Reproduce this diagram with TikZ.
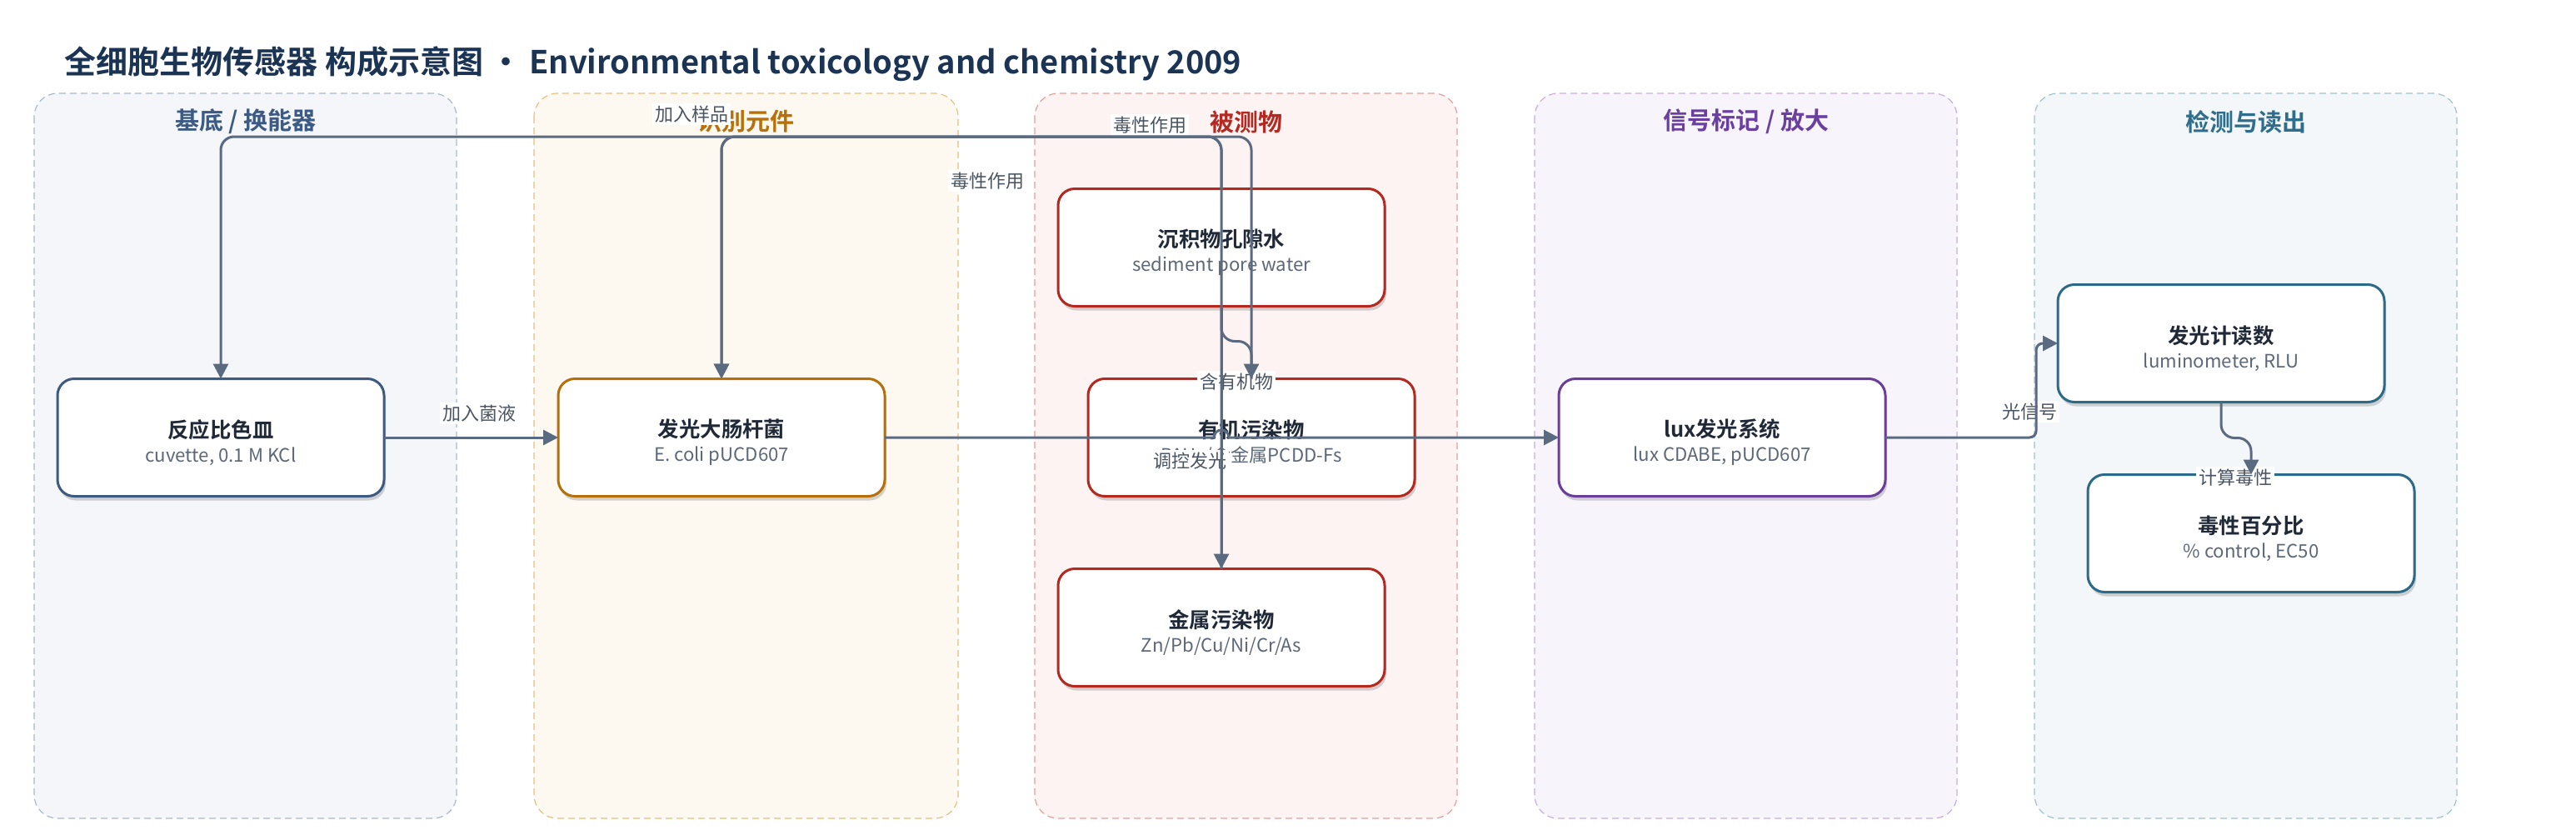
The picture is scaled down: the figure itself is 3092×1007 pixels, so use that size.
\documentclass[tikz,border=0pt]{standalone}
\usepackage{fontspec}
\setmainfont{Noto Sans CJK SC}[BoldFont={Noto Sans CJK SC Bold}]
\usetikzlibrary{positioning,calc,arrows.meta,shadows}

\definecolor{titleblue}{HTML}{1B3454}
\definecolor{ink}{HTML}{1F2937}
\definecolor{sub}{HTML}{5C6878}
\definecolor{lbl}{HTML}{4A5563}
\definecolor{edge}{HTML}{5A6A80}
\definecolor{zAfill}{HTML}{F4F6FA}\definecolor{zAline}{HTML}{A9B8CE}\definecolor{zAtag}{HTML}{3B5A84}\definecolor{zAnode}{HTML}{3D5A80}
\definecolor{zBfill}{HTML}{FDF8F0}\definecolor{zBline}{HTML}{E5C07F}\definecolor{zBtag}{HTML}{B8700A}\definecolor{zBnode}{HTML}{B5700B}
\definecolor{zCfill}{HTML}{FDF3F2}\definecolor{zCline}{HTML}{E3A09B}\definecolor{zCtag}{HTML}{B42A22}\definecolor{zCnode}{HTML}{B3281F}
\definecolor{zDfill}{HTML}{F7F4FB}\definecolor{zDline}{HTML}{C8AEE0}\definecolor{zDtag}{HTML}{6B3FA0}\definecolor{zDnode}{HTML}{6A3D9A}
\definecolor{zEfill}{HTML}{F3F7F9}\definecolor{zEline}{HTML}{9FC2D0}\definecolor{zEtag}{HTML}{2E6D8C}\definecolor{zEnode}{HTML}{2D6A88}

\newcommand{\boxtext}[2]{{\rule{0pt}{17pt}\fontsize{12.7}{14}\selectfont\bfseries\color{ink}#1}\\{\color{sub}#2}}

\begin{document}
\begin{tikzpicture}[
        x=0.5pt, y=-0.5pt,
        zone/.style={dash pattern=on 4pt off 2.5pt, line width=0.6pt, rounded corners=14pt},
        zonetag/.style={align=center, font=\fontsize{14.5}{15}\selectfont\bfseries},
        node/.style={draw, fill=white, align=center, line width=1.5pt, rounded corners=10pt,
          minimum width=196pt, minimum height=70.5pt, inner sep=2pt, outer sep=0pt,
          font=\fontsize{11.1}{14.5}\selectfont,
          drop shadow={shadow xshift=1pt, shadow yshift=-2.5pt, opacity=0.16, fill=black}},
        tag/.style={fill=white, inner sep=1.5pt, text=lbl, font=\fontsize{11}{12}\selectfont},
        flow/.style={draw=edge, line width=1.5pt, rounded corners=8pt, -{Triangle[length=9pt,width=9pt]}}
      ]
      \useasboundingbox[fill=white] (0,0) rectangle (3092,1007);

      \node (T) at (77,77) [anchor=west, inner sep=0, text=titleblue, font=\fontsize{19}{20}\selectfont\bfseries]
        {全细胞生物传感器 构成示意图 • Environmental toxicology and chemistry 2009};

      % zones
      \draw[zone, draw=zAline, fill=zAfill] (41,112) rectangle (548,982);
      \draw[zone, draw=zBline, fill=zBfill] (641,112) rectangle (1150,982);
      \draw[zone, draw=zCline, fill=zCfill] (1242,112) rectangle (1749,982);
      \draw[zone, draw=zDline, fill=zDfill] (1842,112) rectangle (2349,982);
      \draw[zone, draw=zEline, fill=zEfill] (2442,112) rectangle (2949,982);

      \node (ZA) at (295,146) [zonetag, text=zAtag] {基底 / 换能器};
      \node (ZB) at (895,146) [zonetag, text=zBtag] {识别元件};
      \node (ZC) at (1496,146) [zonetag, text=zCtag] {被测物};
      \node (ZD) at (2096,146) [zonetag, text=zDtag] {信号标记 / 放大};
      \node (ZE) at (2696,146) [zonetag, text=zEtag] {检测与读出};

      % blocks
      \node (CUV) at (265,525) [node, draw=zAnode] {\boxtext{反应比色皿}{cuvette, 0.1 M KCl}};
      \node (ECO) [node, right=104.5pt of CUV, draw=zBnode] {\boxtext{发光大肠杆菌}{E. coli pUCD607}};
      \node (SPW) at (1466,297) [node, draw=zCnode] {\boxtext{沉积物孔隙水}{sediment pore water}};
      \node (ORG) at (1502,525) [node, draw=zCnode] {\boxtext{有机污染物}{PAHs/含金属PCDD-Fs}};
      \node (MET) at (1466,753) [node, draw=zCnode] {\boxtext{金属污染物}{Zn/Pb/Cu/Ni/Cr/As}};
      \node (LUX) [node, right=404.5pt of ECO, draw=zDnode] {\boxtext{lux发光系统}{lux CDABE, pUCD607}};
      \node (LUM) at (2666,412) [node, draw=zEnode] {\boxtext{发光计读数}{luminometer, RLU}};
      \node (TOX) at (2702,640) [node, draw=zEnode] {\boxtext{毒性百分比}{\% control, EC50}};

      % labels
      \node (L1) at (575,496) [tag] {加入菌液};
      \node (L2) at (830,137) [tag] {加入样品};
      \node (L3) at (1380,150) [tag] {毒性作用};
      \node (L4) at (1185,217) [tag] {毒性作用};
      \node (L5) at (1484,458) [tag] {含有机物};
      \node (L6) at (1428,553) [tag] {调控发光};
      \node (L7) at (2436,494) [tag] {光信号};
      \node (L8) at (2683,573) [tag] {计算毒性};

      % connectors
      \coordinate (TOP) at (0,164);
      \draw[flow] (SPW.north) -- (SPW.north |- TOP) -| (CUV.north);
      \draw[flow] (ORG.north) -- (ORG.north |- TOP) -| (ECO.north);
      \draw[flow] (MET.north) -- (MET.north |- TOP) -| (ECO.north);
      \draw[flow] (SPW.south) -- ++(0,42) -| (ORG.north);
      \draw[flow] (SPW.south) -- (MET.north);
      \draw[flow] (CUV) -- (ECO);
      \draw[flow, sharp corners] (ECO.east) -- ($(MET.north |- ECO.east)+(-9,0)$)
        arc[start angle=180, end angle=0, radius=4.5pt] -- (LUX.west);
      \draw[flow, rounded corners=4pt] (LUX.east) -- ++(181,0) |- (LUM.west);
      \draw[flow] (LUM.south) -- ++(0,43) -| (TOX.north);
    \end{tikzpicture}
\end{document}
